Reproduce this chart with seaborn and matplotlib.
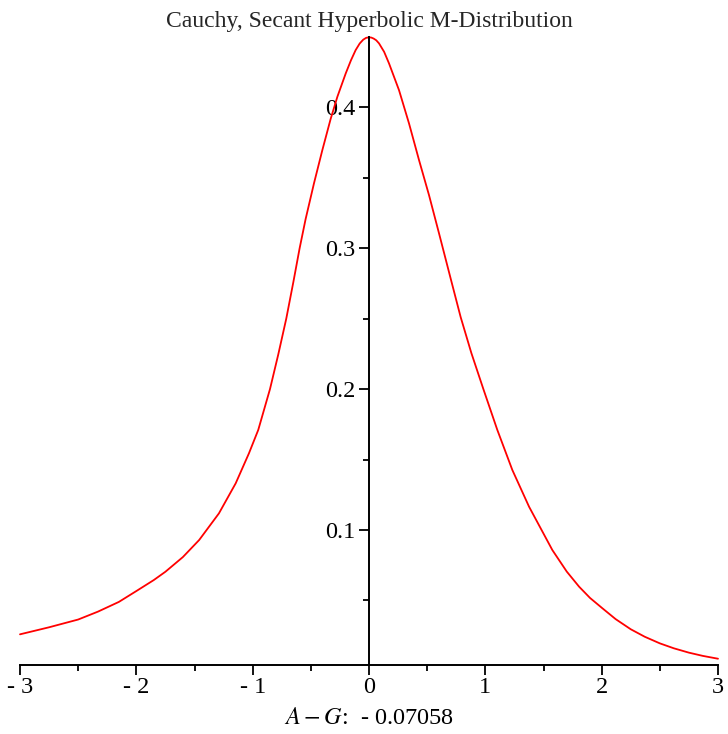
import seaborn as sns
import matplotlib.pyplot as plt
import pandas as pd
from matplotlib.ticker import MultipleLocator

# points
x_vals = [-3.0, -2.75, -2.5, -2.33, -2.15, -2.0, -1.85, -1.75, -1.6, -1.46,
          -1.29, -1.146, -1.032, -0.952, -0.851, -0.78, -0.711, -0.65, -0.596,
          -0.545, -0.473, -0.401, -0.33, -0.272, -0.2, -0.155, -0.115, -0.08,
          -0.05, -0.025, 0.0, 0.02, 0.04, 0.062, 0.086, 0.13, 0.172, 0.258,
          0.344, 0.43, 0.516, 0.602, 0.7, 0.788, 0.88, 0.983, 1.103, 1.232,
          1.376, 1.576, 1.7, 1.806, 1.9, 2.006, 2.12, 2.25, 2.37, 2.5, 2.62,
          2.75, 2.87, 3.0]
y_vals = [0.026, 0.031, 0.0365, 0.0421, 0.049, 0.0567, 0.0645, 0.0704, 0.0808, 0.0929,
          0.1118, 0.1331, 0.1544, 0.171, 0.200, 0.2245, 0.250, 0.276, 0.300,
          0.3205, 0.3459, 0.3695, 0.3915, 0.4073, 0.4239, 0.4332, 0.4404, 0.4451,
          0.4478, 0.4491, 0.4495, 0.4493, 0.4486, 0.4474, 0.4452, 0.4392, 0.431, 0.412,
          0.3884, 0.3624, 0.3375, 0.3104, 0.279, 0.251, 0.2255, 0.200, 0.171, 0.1426,
          0.1165, 0.0858, 0.0705, 0.0598, 0.0518, 0.0445, 0.0368, 0.0296, 0.0243, 0.0196, 0.0161,
          0.013, 0.0107, 0.0087]
x_ticks = [-3, -2, -1, 0, 1, 2, 3]
x_tick_labels = ["- 3", "- 2", "- 1", "0", "1", "2", "3"]
y_ticks = [0.1, 0.2, 0.3, 0.4]
y_tick_labels = ["0.1", "0.2", "0.3", "0.4"]
title = "Cauchy, Secant Hyperbolic M-Distribution"
diff_value = "- 0.07058"

sns.set_style("white")
plt.rcParams['font.family'] = ['Liberation Serif', 'DejaVu Serif']
plt.rcParams['mathtext.fontset'] = 'stix'

fig = plt.figure(figsize=(7.28, 7.34), dpi=100)
W, H = 728, 734
ax = fig.add_axes([20 / W, 1 - 664.5 / H, 698 / W, (664.5 - 37.3) / H])

df = pd.DataFrame({"x": x_vals, "y": y_vals})
sns.lineplot(data=df, x="x", y="y", color="red", lw=1.3, ax=ax, clip_on=False)

ax.set_xlim(-3, 3)
ax.set_ylim(0.0046, 0.4495)

for s in ["top", "right"]:
    ax.spines[s].set_visible(False)
ax.spines["left"].set_position(("data", 0))
ax.spines["left"].set_linewidth(1.4)
ax.spines["bottom"].set_linewidth(1.4)
ax.spines["left"].set_color("black")
ax.spines["bottom"].set_color("black")

ax.set_xticks(x_ticks)
ax.set_xticklabels(x_tick_labels)
ax.set_yticks(y_ticks)
ax.set_yticklabels(y_tick_labels)
ax.xaxis.set_minor_locator(MultipleLocator(0.5))
ax.yaxis.set_minor_locator(MultipleLocator(0.05))
ax.tick_params(axis="both", which="major", direction="out", length=7,
               width=1.3, labelsize=17.5, color="black", labelcolor="black")
ax.tick_params(axis="both", which="minor", direction="out", length=4,
               width=1.3, color="black")
ax.tick_params(axis="x", pad=2)
ax.tick_params(axis="y", pad=3)
ax.tick_params(left=True, bottom=True, which="both")

ax.set_xlabel("$A - G$:  " + diff_value, fontsize=17.5, labelpad=7, color="black")
ax.set_ylabel("")
fig.text(369 / W, 1 - 22 / H, title, ha="center", va="center", fontsize=17)

fig.savefig("out.png", dpi=100)
